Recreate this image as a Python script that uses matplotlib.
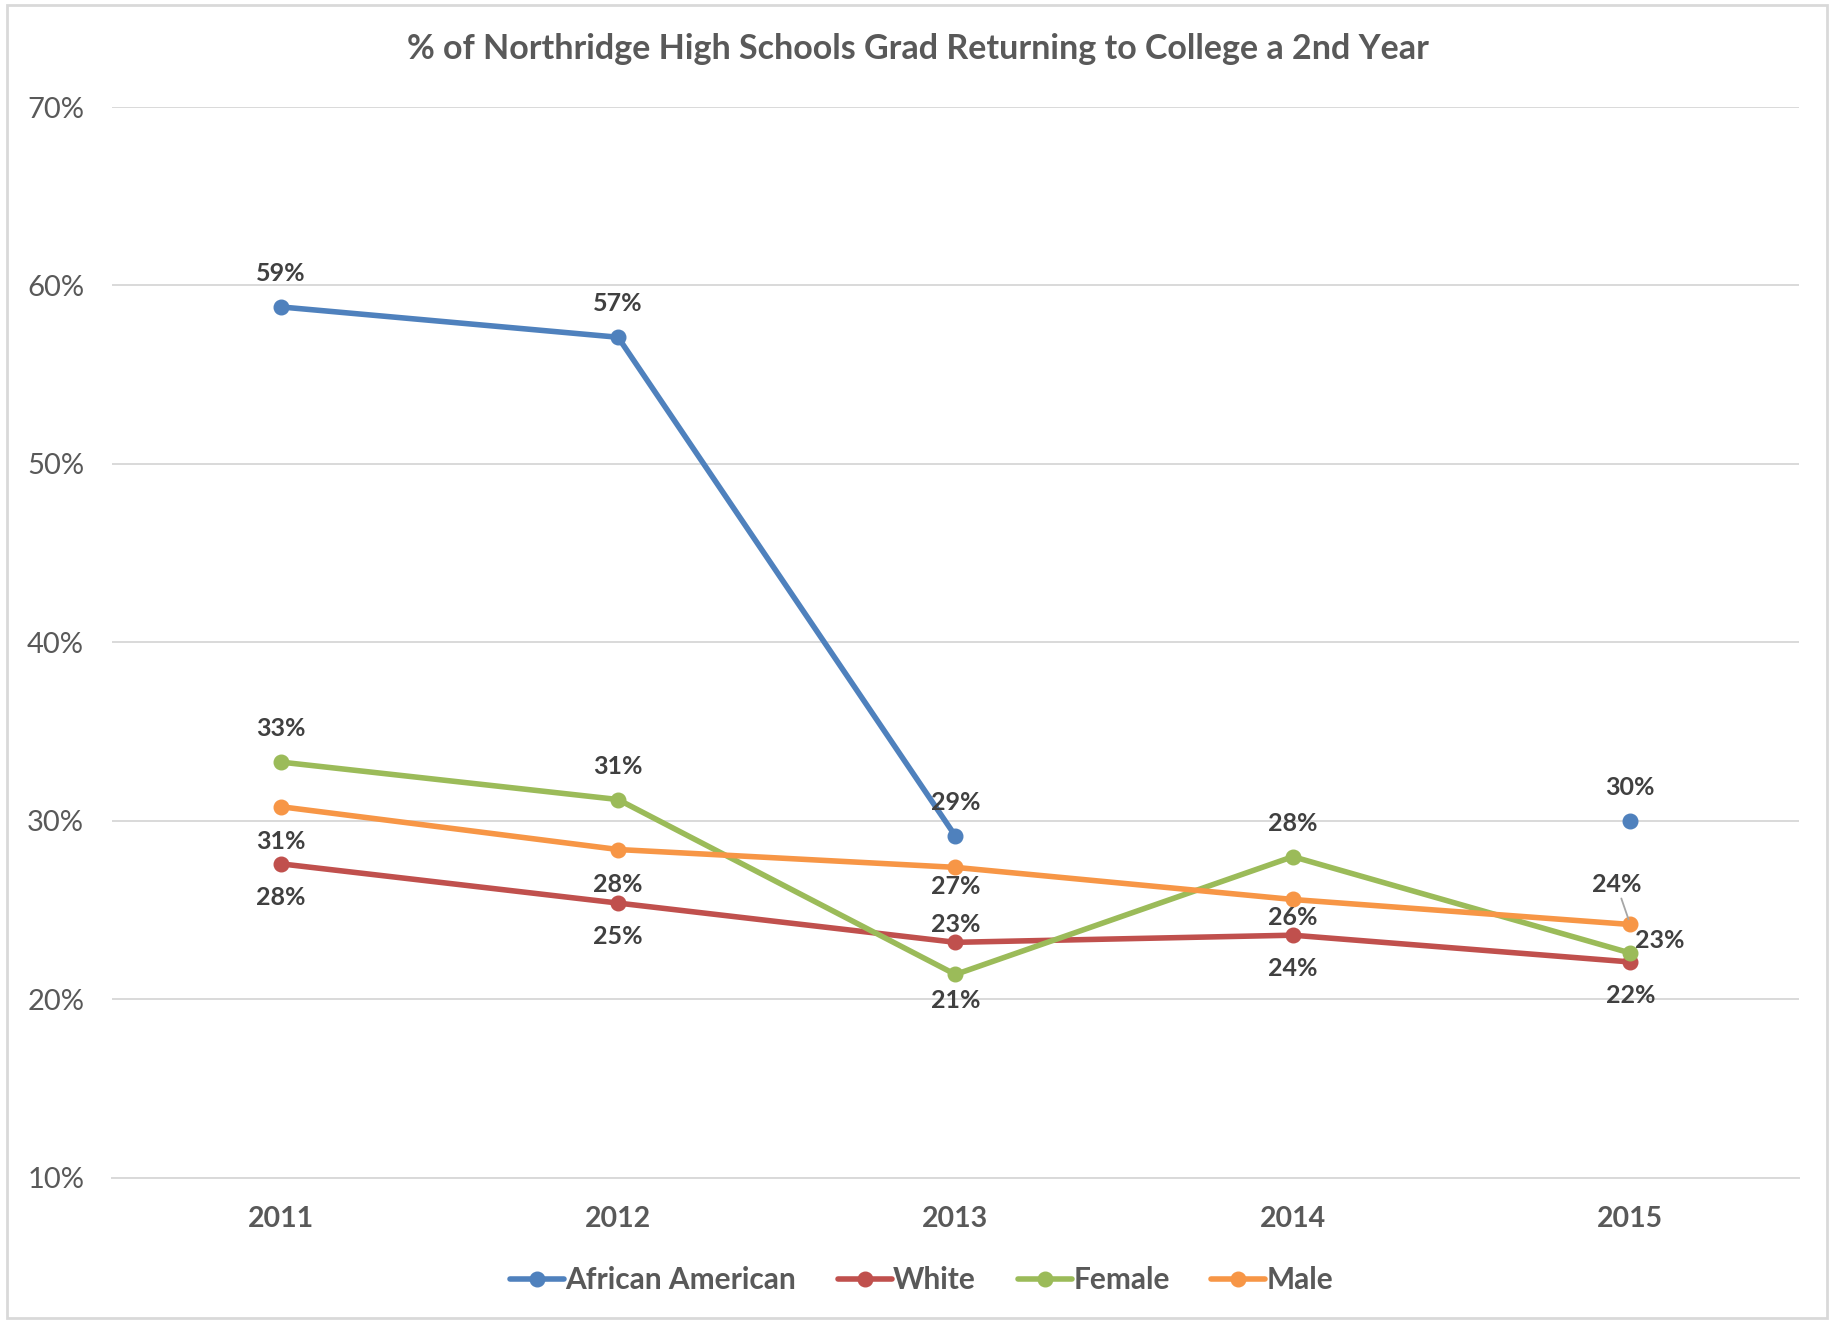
import numpy as np
import matplotlib.pyplot as plt
from matplotlib.patches import Rectangle

plt.rcParams['font.family'] = ['Lato', 'DejaVu Sans']

years = ["2011", "2012", "2013", "2014", "2015"]
african_american = [58.8, 57.1, 29.15, np.nan, 30.0]
white = [27.6, 25.4, 23.2, 23.6, 22.1]
female = [33.3, 31.2, 21.4, 28.0, 22.6]
male = [30.8, 28.4, 27.4, 25.6, 24.2]
y_ticks = [10, 20, 30, 40, 50, 60, 70]

series = [
    ("African American", african_american, "#4F81BD"),
    ("White", white, "#C0504D"),
    ("Female", female, "#9BBB59"),
    ("Male", male, "#F79646"),
]

# label offsets in points (dx, dy) per series / year
offsets = {
    "African American": [(0, 24), (0, 24), (0, 24), None, (0, 24)],
    "White": [(0, -24), (0, -24), (0, 13), (0, -24), (0, -24)],
    "Female": [(0, 24), (0, 24), (0, -19), (0, 24), (21, 9)],
    "Male": [(0, -25), (0, -25), (0, -14), (0, -13), (-10, 29)],
}

fig = plt.figure(figsize=(18.29, 13.21), dpi=100)
ax = fig.add_axes([0.0612, 0.1083, 0.9224, 0.8107])

x = np.arange(len(years))
for name, vals, color in series:
    ax.plot(x, vals, color=color, lw=4, marker="o", markersize=10.5,
            label=name, solid_capstyle="round", zorder=3)
    for i, v in enumerate(vals):
        off = offsets[name][i]
        if off is None or np.isnan(v):
            continue
        kw = {}
        if name == "Male" and i == 4:
            kw["arrowprops"] = dict(arrowstyle="-", color="#A6A6A6", lw=1.3,
                                    shrinkA=0, shrinkB=4)
        ax.annotate(f"{v:.0f}%", (x[i], v), xytext=off, textcoords="offset points",
                    ha="center", va="center", fontsize=18, fontweight="bold",
                    color="#404040", zorder=5, **kw)

ax.set_xlim(-0.5, len(years) - 0.5)
ax.set_ylim(10, 70)
ax.set_yticks(y_ticks)
ax.set_yticklabels([f"{t}%" for t in y_ticks], fontsize=21, color="#595959")
ax.set_xticks(x)
ax.set_xticklabels(years, fontsize=20.5, fontweight="bold", color="#595959")
ax.tick_params(axis="both", length=0)
ax.tick_params(axis="x", pad=20)
ax.tick_params(axis="y", pad=20)

ax.grid(axis="y", color="#D9D9D9", lw=1.4, zorder=0)
for s in ["top", "right", "left"]:
    ax.spines[s].set_visible(False)
ax.spines["bottom"].set_color("#D9D9D9")
ax.spines["bottom"].set_linewidth(1.4)

fig.text(0.502, 0.963, "% of Northridge High Schools Grad Returning to College a 2nd Year",
         ha="center", va="center", fontsize=24.5, fontweight="bold", color="#595959")

fig.legend(loc="center", bbox_to_anchor=(0.504, 0.031), ncol=4, frameon=False,
           prop={"size": 21.5, "weight": "bold"}, handlelength=1.8,
           handletextpad=0.05, columnspacing=1.4, labelcolor="#595959")

fig.patches.append(Rectangle((0.004, 0.002), 0.995, 0.994, transform=fig.transFigure,
                             fill=False, edgecolor="#D9D9D9", lw=2))

fig.savefig("out.png", dpi=100)
